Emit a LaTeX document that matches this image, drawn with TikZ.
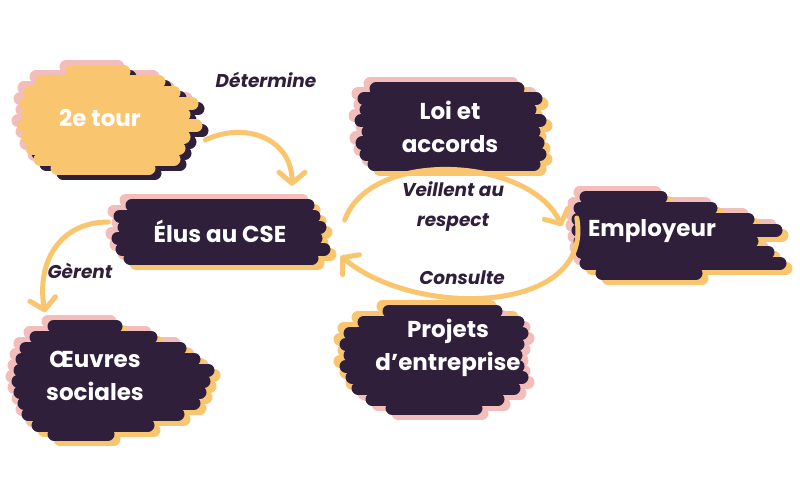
\documentclass[tikz,border=0pt]{standalone}
\usepackage{fontspec}
\setmainfont{Poppins}
\usetikzlibrary{
    arrows.meta,
    positioning
}

\definecolor{ink}{HTML}{2F1F3A}
\definecolor{sun}{HTML}{F9C56E}
\definecolor{blush}{HTML}{F2BDBB}

% brush stroke: #1,#2 centre, #3 main colour, #4 up-left layer, #5 down-right layer, #6 rows a/b/h
\newcommand{\brush}[6]{%
    \foreach \dx/\dy/\c in {-6/5/#4, 6/-5/#5, 0/0/#3}{
        \foreach \a/\b/\h in {#6}
            \draw[line width=13pt, line cap=round, \c] (#1+\a+\dx+4, #2-\h+\dy) -- (#1+\b+\dx-4, #2-\h+\dy);
    }%
}

\begin{document}
\begin{tikzpicture}[x=1pt, y=1pt,
    flow/.style={draw=sun, line width=5pt, line cap=round,
        -{Straight Barb[length=11pt, width=26pt, round]}},
    blob/.style={text=white, font=\bfseries\fontsize{23}{33}\selectfont,
        align=center, inner sep=0pt},
    verb/.style={text=ink, font=\bfseries\itshape\fontsize{18.5}{30}\selectfont,
        align=center}]
    \fill[white] (0,0) rectangle (800,-500);
    \useasboundingbox (0,0) rectangle (800,-500);
    % brush strokes
    \brush{108}{-118}{sun}{blush}{ink}{-40/20/-46, -70/55/-36, -82/70/-25, -86/88/-14, -84/80/-3, -88/92/8, -84/80/19, -80/75/30, -72/70/41, -55/45/50}
    \brush{452}{-127}{ink}{blush}{sun}{-80/70/-38, -92/88/-28, -90/82/-17, -95/92/-6, -88/86/5, -94/90/16, -90/92/27, -82/86/37}
    \brush{220}{-231}{ink}{blush}{sun}{-92/92/-26, -104/98/-15, -100/104/-4, -106/100/7, -102/108/18, -94/96/27}
    \brush{660}{-232}{ink}{blush}{sun}{-78/5/-35, -84/55/-24, -86/92/-13, -86/120/-2, -84/96/9, -82/112/20, -78/124/31, -62/40/41}
    \brush{100}{-378}{ink}{blush}{sun}{-50/20/-52, -68/55/-41, -78/84/-30, -82/98/-19, -84/112/-8, -86/108/3, -84/104/14, -80/98/25, -76/82/36, -66/52/47, -50/12/56}
    \brush{440}{-357}{ink}{sun}{blush}{-55/60/-46, -80/82/-35, -94/86/-24, -98/82/-13, -94/80/-2, -98/82/9, -92/86/20, -86/78/31, -72/62/42, -52/40/51}
    % actors
    \node[blob, minimum width=180pt, minimum height=100pt] (tour) at (100,-118) {2e tour};
    \node[blob, minimum width=190pt, minimum height=85pt] (loi) at (450,-127) {Loi et\\accords};
    \node[blob, minimum width=215pt, minimum height=66pt] (elus) at (220,-231) {Élus au CSE};
    \node[blob, minimum width=160pt, minimum height=85pt] (emp) at (652,-231) {Employeur};
    \node[blob, minimum width=190pt, minimum height=115pt] (oeu) at (95,-376) {Œuvres\\sociales};
    \node[blob, minimum width=180pt, minimum height=100pt] (proj) at (448,-348) {Projets\\d’entreprise};
    % links
    \draw[flow] ([shift={(15,-22)}]tour.east) to[out=25, in=90, looseness=1.2] ([shift={(72,12)}]elus.north);
    \draw[flow] ([shift={(-4,9)}]elus.west) to[out=180, in=100, looseness=1.15] ([shift={(-50,6)}]oeu.north);
    \draw[flow] ([shift={(17,11)}]elus.east) to[out=70, in=115, looseness=0.9] ([shift={(-10,5)}]emp.west);
    \draw[flow] ([shift={(5,13)}]emp.west) to[out=-80, in=-40, looseness=1.05] ([shift={(13,-25)}]elus.east);
    % verbs
    \node[verb] (det) at (266,-80) {Détermine};
    \node[verb] (ger) at (80,-271) {Gèrent};
    \node[verb] (veil) at (453,-207) {Veillent au\\respect};
    \node[verb] (cons) at (462,-278) {Consulte};
\end{tikzpicture}
\end{document}
